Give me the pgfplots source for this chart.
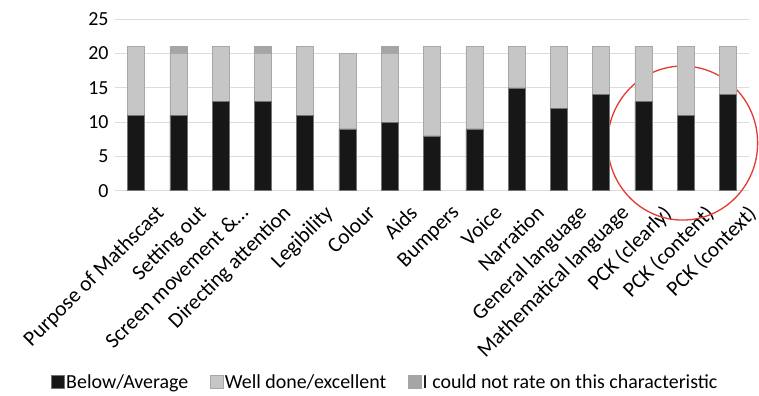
\documentclass[border=0pt]{standalone}
\usepackage{pgfplots}
\pgfplotsset{compat=1.18}
\usepackage{fontspec}
\setmainfont{Carlito}
\definecolor{cA}{HTML}{171717}
\definecolor{cB}{HTML}{C5C6C5}
\definecolor{cC}{HTML}{A5A5A5}
\definecolor{grd}{HTML}{DCDCDC}
\definecolor{circ}{HTML}{E23A2E}
\begin{document}
\begin{tikzpicture}
\useasboundingbox (-115bp,-205.3bp) rectangle (644bp,190.7bp);
\begin{axis}[
  scale only axis, width=634bp, height=171.4bp,
  ybar stacked, bar width=17bp,
  xmin=-0.5, xmax=14.5, ymin=0, ymax=25,
  ytick={0,5,...,25},
  xtick={0,...,14},
  xticklabels={Purpose of Mathscast, Setting out, Screen movement \&\ldots, Directing attention, Legibility, Colour, Aids, Bumpers, Voice, Narration, General language, Mathematical language, PCK (clearly), PCK (content), PCK (context)},
  x tick label style={rotate=45, anchor=north east, font=\fontsize{21.5}{21.5}\selectfont, inner sep=0pt, xshift=4bp, yshift=-22bp},
  y tick label style={font=\fontsize{20}{20}\selectfont, xshift=-3bp},
  /pgf/number format/assume math mode=true,
  ymajorgrids, grid style={grd, line width=1.2bp},
  axis line style={draw=none},
  tick style={draw=none},
  clip=false,
  legend columns=3,
  legend style={at={(axis description cs:0.426,-1.116)}, anchor=center, draw=none, font=\fontsize{20}{20}\selectfont,
    inner sep=0pt, nodes={inner sep=1.5bp},
    /tikz/every even column/.append style={column sep=20bp}},
  legend image code/.code={\fill[#1] (0bp,-6.5bp) rectangle (13bp,6.5bp);},
]
\addplot[fill=cA, draw=cA!60!white, line width=0.5bp] coordinates {(0,11) (1,11) (2,13) (3,13) (4,11) (5,9) (6,10) (7,8) (8,9) (9,15) (10,12) (11,14) (12,13) (13,11) (14,14)};
\addplot[fill=cB, draw=cB!85!black, line width=0.5bp] coordinates {(0,10) (1,9) (2,8) (3,7) (4,10) (5,11) (6,10) (7,13) (8,12) (9,6) (10,9) (11,7) (12,8) (13,10) (14,7)};
\addplot[fill=cC, draw=cC, line width=0.5bp] coordinates {(0,0) (1,1) (2,0) (3,1) (4,0) (5,0) (6,1) (7,0) (8,0) (9,0) (10,0) (11,0) (12,0) (13,0) (14,0)};
\legend{Below/Average, Well done/excellent, I could not rate on this characteristic}
\draw[circ, line width=1.3bp] (axis cs:12.93,6.95) ellipse [x radius=75bp, y radius=77bp];
\end{axis}
\end{tikzpicture}
\end{document}
